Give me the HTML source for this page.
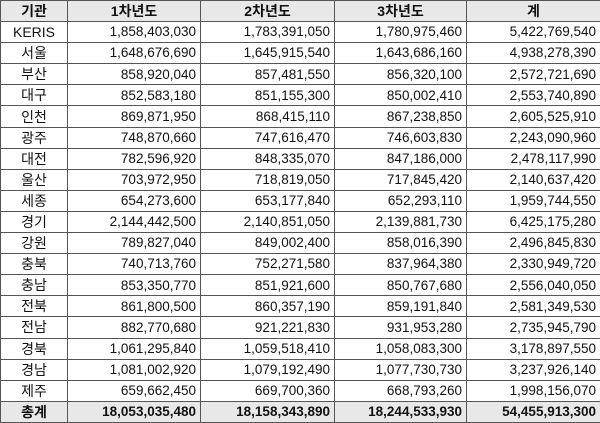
<!DOCTYPE html>
<html><head><meta charset="utf-8"><style>
html,body{margin:0;padding:0;background:#fff;}
table{border-collapse:collapse;width:600px;height:423px;table-layout:fixed;font-family:"Liberation Sans","Noto Sans CJK KR",sans-serif;font-size:13.5px;color:#111;}
td,th{border:1px solid #555;padding:0 4px;line-height:1;white-space:nowrap;overflow:hidden;}
td{text-align:right;}
td:first-child{text-align:center;font-size:14px;}
th{background:#e8e8e8;font-weight:bold;text-align:center;font-size:14px;}
tr.t td{background:#e8e8e8;font-weight:bold;}
tr{height:21px;}
</style></head><body>
<table>
<colgroup><col style="width:67px"><col style="width:133px"><col style="width:134px"><col style="width:132px"><col style="width:134px"></colgroup>
<tr><th>기관</th><th>1차년도</th><th>2차년도</th><th>3차년도</th><th>계</th></tr>
<tr><td>KERIS</td><td>1,858,403,030</td><td>1,783,391,050</td><td>1,780,975,460</td><td>5,422,769,540</td></tr>
<tr><td>서울</td><td>1,648,676,690</td><td>1,645,915,540</td><td>1,643,686,160</td><td>4,938,278,390</td></tr>
<tr><td>부산</td><td>858,920,040</td><td>857,481,550</td><td>856,320,100</td><td>2,572,721,690</td></tr>
<tr><td>대구</td><td>852,583,180</td><td>851,155,300</td><td>850,002,410</td><td>2,553,740,890</td></tr>
<tr><td>인천</td><td>869,871,950</td><td>868,415,110</td><td>867,238,850</td><td>2,605,525,910</td></tr>
<tr><td>광주</td><td>748,870,660</td><td>747,616,470</td><td>746,603,830</td><td>2,243,090,960</td></tr>
<tr><td>대전</td><td>782,596,920</td><td>848,335,070</td><td>847,186,000</td><td>2,478,117,990</td></tr>
<tr><td>울산</td><td>703,972,950</td><td>718,819,050</td><td>717,845,420</td><td>2,140,637,420</td></tr>
<tr><td>세종</td><td>654,273,600</td><td>653,177,840</td><td>652,293,110</td><td>1,959,744,550</td></tr>
<tr><td>경기</td><td>2,144,442,500</td><td>2,140,851,050</td><td>2,139,881,730</td><td>6,425,175,280</td></tr>
<tr><td>강원</td><td>789,827,040</td><td>849,002,400</td><td>858,016,390</td><td>2,496,845,830</td></tr>
<tr><td>충북</td><td>740,713,760</td><td>752,271,580</td><td>837,964,380</td><td>2,330,949,720</td></tr>
<tr><td>충남</td><td>853,350,770</td><td>851,921,600</td><td>850,767,680</td><td>2,556,040,050</td></tr>
<tr><td>전북</td><td>861,800,500</td><td>860,357,190</td><td>859,191,840</td><td>2,581,349,530</td></tr>
<tr><td>전남</td><td>882,770,680</td><td>921,221,830</td><td>931,953,280</td><td>2,735,945,790</td></tr>
<tr><td>경북</td><td>1,061,295,840</td><td>1,059,518,410</td><td>1,058,083,300</td><td>3,178,897,550</td></tr>
<tr><td>경남</td><td>1,081,002,920</td><td>1,079,192,490</td><td>1,077,730,730</td><td>3,237,926,140</td></tr>
<tr><td>제주</td><td>659,662,450</td><td>669,700,360</td><td>668,793,260</td><td>1,998,156,070</td></tr>
<tr class="t"><td>총계</td><td>18,053,035,480</td><td>18,158,343,890</td><td>18,244,533,930</td><td>54,455,913,300</td></tr>
</table>
</body></html>
